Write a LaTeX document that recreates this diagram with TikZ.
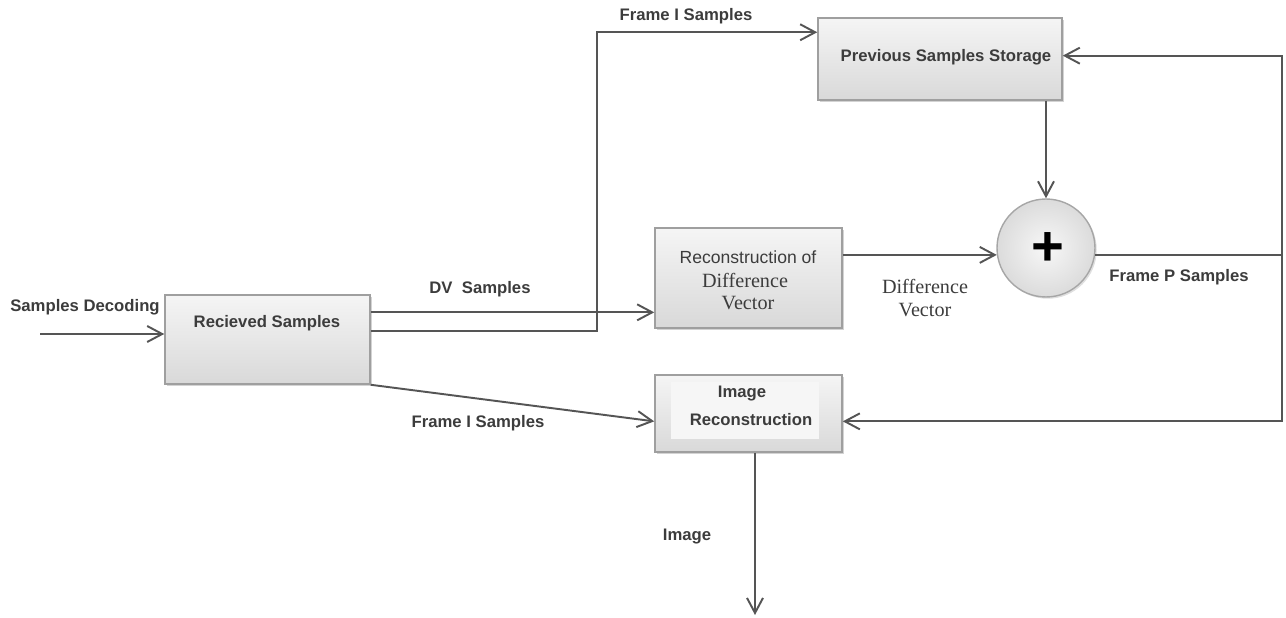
\documentclass[tikz,border=0pt]{standalone}
\usepackage{fontspec}
\setmainfont{Liberation Sans}
\newfontfamily\timesfont{Liberation Serif}
\usetikzlibrary{calc,shadows,arrows.meta}
\definecolor{linegray}{HTML}{555555}
\definecolor{textgray}{HTML}{3C3C3C}

\begin{document}
\begin{tikzpicture}[x=0.02cm, y=-0.02cm,
	blok/.style={draw=gray!75, line width=0.9pt, top color=gray!8, bottom color=gray!30, drop shadow={shadow xshift=1.2pt, shadow yshift=-1.2pt, opacity=0.35}},
	sumnode/.style={circle, draw=gray!70, line width=0.8pt, inner color=gray!6, outer color=gray!28, minimum size=1.96cm, drop shadow={shadow xshift=1pt, shadow yshift=-1pt, opacity=0.25}},
	arr/.style={draw=linegray, line width=1.1pt, -{Straight Barb[length=3mm, width=3.2mm, line width=1.1pt]}},
	wire/.style={draw=linegray, line width=1.1pt},
	lbl/.style={text=textgray, font=\fontsize{9.5}{11}\selectfont\bfseries, inner sep=0pt},
	serif/.style={text=textgray, font=\fontsize{11.5}{13}\selectfont\timesfont, inner sep=0pt}]
		%%%%% START %%%%%
		\useasboundingbox (0,0) rectangle (1286,618);
		
		% boxes
		\node[blok, minimum width=4.1cm, minimum height=1.78cm] (recv) at (267.5,339.5) {};
		\node[blok, minimum width=4.88cm, minimum height=1.64cm] (store) at (940,59) {};
		\node[blok, minimum width=3.74cm, minimum height=2cm] (recon) at (748.5,278) {};
		\node[blok, minimum width=3.74cm, minimum height=1.54cm] (img) at (748.5,413.5) {};
		\fill[gray!7] ($(img.north west)+(17,8)$) rectangle ($(img.south east)+(-24,-14)$);
		\node[sumnode] (sum) at (1046,248) {};
		
		% texts in the boxes
		\node[lbl] (recvtxt) at (267,323) {Recieved Samples};
		\node[lbl] (storetxt) at (946,57) {Previous Samples Storage};
		\node[text=textgray, font=\fontsize{10}{12}\selectfont, inner sep=0pt] (recontxt) at (748,257) {Reconstruction of};
		\node[serif] (recontxtb) at (745,280) {Difference};
		\node[serif] (recontxtc) at (748,303) {Vector};
		\node[lbl] (imgtxt) at (742,394) {Image};
		\node[lbl] (imgtxtb) at (751,420) {Reconstruction};
		\node[text=black, font=\fontsize{32}{32}\selectfont\bfseries, inner sep=0pt] (plus) at (1048,249) {+};
		
		% connectors
		\coordinate (in) at (40,334);
		\draw[arr] (in) -- (in -| recv.west);
		
		\coordinate (dvout) at ($(recv.north east)!0.2!(recv.south east)$);
		\draw[arr] (dvout) -- (dvout -| recon.west);
		
		\coordinate (fiout) at ($(recv.north east)!0.404!(recv.south east)$);
		\draw[arr] (fiout) -- ++(226,0) |- ($(store.north west)!0.18!(store.south west)$);
		
		\draw[arr] (recv.south east) -- ($(img.north west)!0.6!(img.south west)$);
		
		\draw[arr] (store.south -| sum) -- (sum.north);
		\draw[arr] (sum.188 -| recon.east) -- (sum.188);
		
		\coordinate (fb) at (1282,256);
		\draw[wire] (sum.352) -- (sum.352 -| fb);
		\draw[arr] (fb) |- ($(store.north east)!0.46!(store.south east)$);
		\draw[arr] (fb) |- ($(img.north east)!0.6!(img.south east)$);
		
		\coordinate (out) at (755,615);
		\draw[arr] (out |- img.south) -- (out);
		
		% labels
		\node[lbl] (ldec) at (85,307) {Samples Decoding};
		\node[lbl] (lfitop) at (686,16) {Frame I Samples};
		\node[lbl] (ldv) at (480,289) {DV\ \ Samples};
		\node[lbl] (lfibot) at (478,423) {Frame I Samples};
		\node[serif] (ldiff) at (925,286) {Difference};
		\node[serif] (ldiffb) at (925,310) {Vector};
		\node[lbl] (lfp) at (1179,277) {Frame P Samples};
		\node[lbl] (limg) at (687,537) {Image};
		
		%%%%% END %%%%%
	\end{tikzpicture}
\end{document}
